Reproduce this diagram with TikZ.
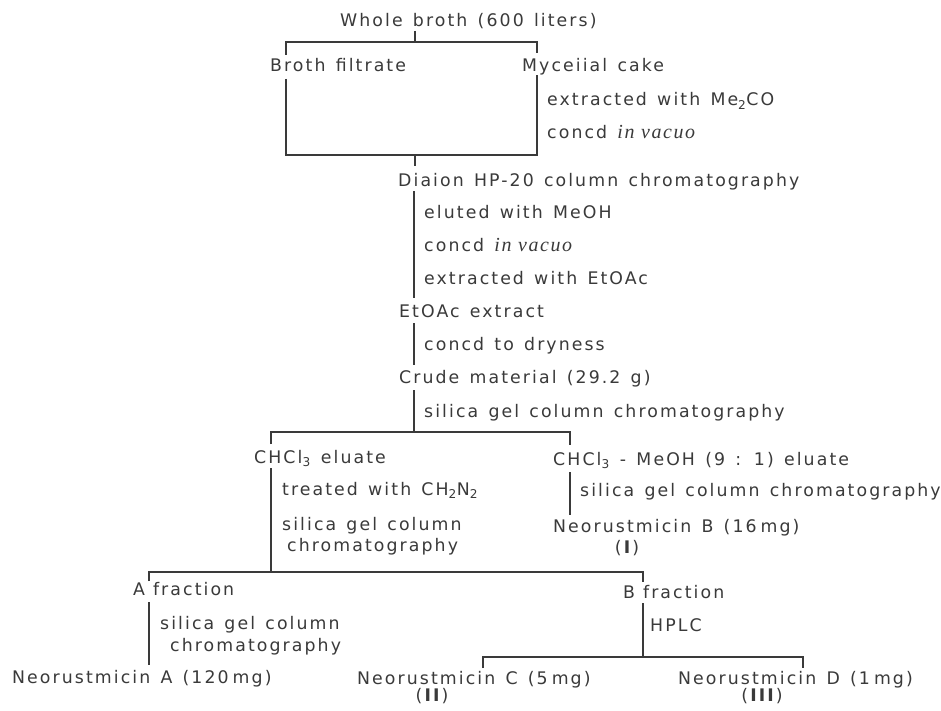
\documentclass[tikz,border=0pt]{standalone}
\usepackage{fontspec}
\setmainfont{DejaVu Sans}[LetterSpace=12,WordSpace=1.35]
\newfontfamily\vac{Liberation Serif}[LetterSpace=8]
\definecolor{ink}{HTML}{3A3A3A}
\tikzset{
  txt/.style={anchor=base west, inner sep=0pt, font=\fontsize{17.4}{20}\selectfont, text=ink},
  ctxt/.style={txt, anchor=base},
  ln/.style={draw=ink, line width=1.2bp},
}
\newcommand{\iv}{{\vac\itshape\fontsize{20}{20}\selectfont in vacuo}}
\begin{document}
\begin{tikzpicture}[x=1bp,y=-1bp]
\useasboundingbox[fill=white] (0,0) rectangle (941,711);
% ---- texts ----
\node[txt] (wb) at (340,27) {Whole broth (600 liters)};
\node[txt] (bf) at (270,72) {Broth filtrate};
\node[txt] (mc) at (522,72) {Myceiial cake};
\node[txt] (ex1) at (547,106) {extracted with Me\textsubscript{2}CO};
\node[txt] (cv1) at (547,139) {concd \iv};
\node[txt] (dia) at (398,187) {Diaion HP-20 column chromatography};
\node[txt] (el) at (424,218) {eluted with MeOH};
\node[txt] (cv2) at (424,251) {concd \iv};
\node[txt] (ex2) at (424,284) {extracted with EtOAc};
\node[txt] (ea) at (399,317) {EtOAc extract};
\node[txt] (dry) at (424,350) {concd to dryness};
\node[txt] (crude) at (399,383) {Crude material (29.2 g)};
\node[txt] (sg1) at (424,417) {silica gel column chromatography};
\node[txt] (chl) at (254,463) {CHCl\textsubscript{3} eluate};
\node[txt] (chm) at (553,465) {CHCl\textsubscript{3} - MeOH (9 : 1) eluate};
\node[txt] (trt) at (282,495) {treated with CH\textsubscript{2}N\textsubscript{2}};
\node[txt] (sg2) at (580,496) {silica gel column chromatography};
\node[txt] (sg3a) at (282,530) {silica gel column};
\node[txt] (sg3b) at (287,551) {chromatography};
\node[txt] (nb) at (553,532) {Neorustmicin B (16\hspace{4bp}mg)};
\node[ctxt] (nbr) at (627,553) {(\textbf{I})};
\node[txt] (af) at (133,595) {A\hspace{8bp}fraction};
\node[txt] (sg4a) at (160,629) {silica gel column};
\node[txt] (sg4b) at (170,651) {chromatography};
\node[txt] (na) at (12,683) {Neorustmicin A (120\hspace{4bp}mg)};
\node[txt] (bfr) at (623,598) {B\hspace{8bp}fraction};
\node[txt] (hplc) at (650,631) {HPLC};
\node[txt] (nc) at (357,684) {Neorustmicin C (5\hspace{4bp}mg)};
\node[ctxt] (ncr) at (432,701) {(\textbf{II})};
\node[txt] (nd) at (678,684) {Neorustmicin D (1\hspace{4bp}mg)};
\node[ctxt] (ndr) at (762,701) {(\textbf{III})};
% ---- bracket points ----
\coordinate (w0) at (415,31);
\coordinate (w1) at (415,42);
\coordinate (bl) at (286,42);
\coordinate (br) at (537,42);
\coordinate (bl1) at (286,55);
\coordinate (bl2) at (286,79);
\coordinate (br1) at (537,53);
\coordinate (br2) at (537,75);
\coordinate (bbl) at (286,155);
\coordinate (bbr) at (537,155);
\coordinate (bm) at (415,155);
\coordinate (bm1) at (415,166);
\coordinate (d1) at (414,191);
\coordinate (d2) at (414,298);
\coordinate (e1) at (414,323);
\coordinate (e2) at (414,365);
\coordinate (c1) at (414,390);
\coordinate (c2) at (414,432);
\coordinate (s1) at (271,432);
\coordinate (s2) at (570,432);
\coordinate (s1a) at (271,444);
\coordinate (s2a) at (570,445);
\coordinate (l1) at (271,468);
\coordinate (l2) at (271,572);
\coordinate (r1) at (570,472);
\coordinate (r2) at (570,515);
\coordinate (f1) at (149,572);
\coordinate (f2) at (643,572);
\coordinate (f1a) at (149,581);
\coordinate (f2a) at (643,582);
\coordinate (a1) at (149,602);
\coordinate (a2) at (149,665);
\coordinate (b1) at (643,603);
\coordinate (b2) at (643,657);
\coordinate (h1) at (483,657);
\coordinate (h2) at (803,657);
\coordinate (h1a) at (483,668);
\coordinate (h2a) at (803,668);
% ---- connectors ----
\draw[ln] (w0) -- (w1);
\draw[ln] (bl1) -- (bl) -- (br) -- (br1);
\draw[ln] (bl2) -- (bbl) -- (bbr) -- (br2);
\draw[ln] (bm) -- (bm1);
\draw[ln] (d1) -- (d2);
\draw[ln] (e1) -- (e2);
\draw[ln] (c1) -- (c2);
\draw[ln] (s1a) -- (s1) -- (s2) -- (s2a);
\draw[ln] (l1) -- (l2);
\draw[ln] (r1) -- (r2);
\draw[ln] (f1a) -- (f1) -- (f2) -- (f2a);
\draw[ln] (a1) -- (a2);
\draw[ln] (b1) -- (b2);
\draw[ln] (h1a) -- (h1) -- (h2) -- (h2a);
\end{tikzpicture}
\end{document}
